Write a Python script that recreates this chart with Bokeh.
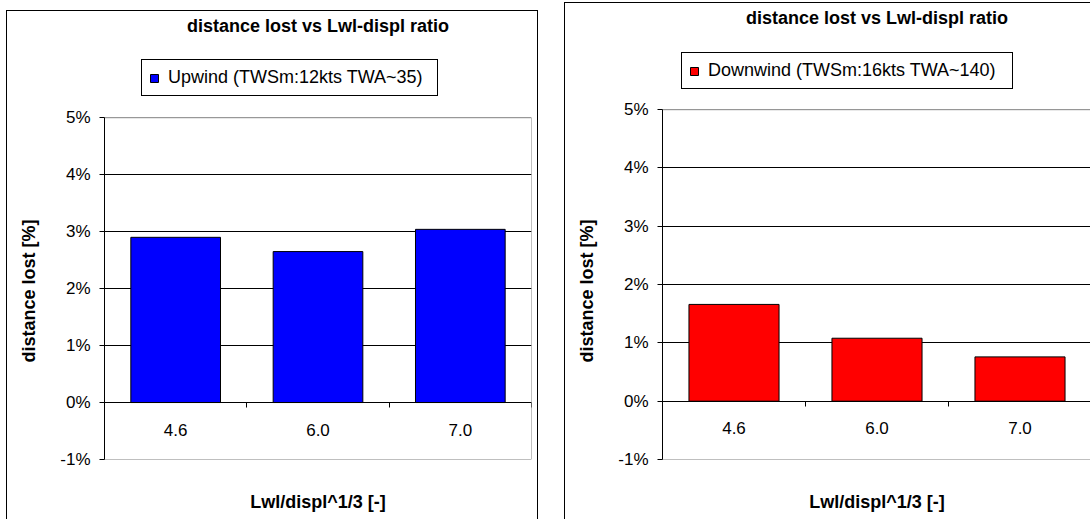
from bokeh.plotting import figure
from bokeh.layouts import row
from bokeh.models import (FixedTicker, LinearAxis, NumeralTickFormatter, Grid,
                          Legend, LegendItem, Range1d, BoxAnnotation, Title)
from bokeh.embed import file_html
from bokeh.resources import INLINE

# data
ratios = ["4.6", "6.0", "7.0"]
upwind = [0.029, 0.0265, 0.0304]
downwind = [0.0166, 0.0108, 0.0076]
pct_ticks = [-0.01, 0.0, 0.01, 0.02, 0.03, 0.04, 0.05]
grid_ticks = [0.01, 0.02, 0.03, 0.04]
y_min, y_max = -0.01, 0.05

title_text = "distance lost vs Lwl-displ ratio"
y_label = "distance lost [%]"
x_label = "Lwl/displ^1/3 [-]"
up_label = "Upwind (TWSm:12kts TWA~35)"
down_label = "Downwind (TWSm:16kts TWA~140)"

FONT = "Liberation Sans"
TOP, BOTTOM = 27, 61   # canvas borders
HEADROOM = 79          # px of frame kept above the 5% line for the legend


def make_chart(values, color, label, width, height, right, legend_xy, label_w):
    n = len(ratios)
    centers = [i + 0.5 for i in range(n)]
    frame_h = height - 1 - TOP - BOTTOM
    per_px = (y_max - y_min) / (frame_h - HEADROOM)
    p = figure(width=width, height=height,
               x_range=Range1d(0, n),
               y_range=Range1d(y_min, y_max + HEADROOM * per_px),
               x_axis_location=None, y_axis_location=None,
               output_backend="svg", toolbar_location=None)
    p.min_border_left = 97
    p.min_border_right = right
    p.min_border_top = TOP
    p.min_border_bottom = BOTTOM
    p.outline_line_color = None
    p.background_fill_color = "white"
    p.border_fill_color = "white"
    for g in p.grid:
        g.visible = False

    # plot area border
    p.add_layout(BoxAnnotation(left=0, right=n, bottom=y_min, top=y_max,
                               fill_alpha=0, line_color="#808080", line_width=1,
                               line_alpha=1, level="underlay"))
    p.add_layout(Grid(dimension=1, ticker=FixedTicker(ticks=grid_ticks),
                      grid_line_color="black"))

    bars = p.vbar(x=centers, top=values, bottom=0, width=0.63,
                  fill_color=color, line_color="black", line_width=1)

    # percentage axis
    yaxis = LinearAxis(ticker=FixedTicker(ticks=pct_ticks),
                       formatter=NumeralTickFormatter(format="0%"),
                       bounds=(y_min, y_max))
    yaxis.major_label_text_font = FONT
    yaxis.major_label_text_font_size = "17px"
    yaxis.major_label_text_color = "black"
    yaxis.major_label_standoff = 9
    yaxis.major_tick_out = 5
    yaxis.major_tick_in = 0
    yaxis.minor_tick_line_color = None
    yaxis.axis_line_color = "black"
    p.add_layout(yaxis, "left")

    # invisible axis used only as a gap before the y title
    gap = LinearAxis(ticker=FixedTicker(ticks=[0.02]), major_tick_out=19, major_tick_in=0,
                     minor_tick_out=0, minor_tick_in=0, major_label_standoff=0,
                     axis_line_color=None, major_tick_line_color=None,
                     minor_tick_line_color=None, major_label_text_font_size="0px",
                     major_label_overrides={0.02: ""})
    p.add_layout(gap, "left")

    # y axis title, centred on the -1%..5% span rather than the whole frame
    ytitle = Title(text=y_label, align="left", offset=97, standoff=0,
                   text_font=FONT, text_font_size="18px", text_font_style="bold",
                   text_color="black")
    p.add_layout(ytitle, "left")

    # category axis crossing at 0
    xaxis = LinearAxis(ticker=FixedTicker(ticks=centers, minor_ticks=list(range(n + 1))),
                       major_label_overrides={c: r for c, r in zip(centers, ratios)},
                       fixed_location=0)
    xaxis.major_tick_out = 0
    xaxis.major_tick_in = 0
    xaxis.minor_tick_out = 5
    xaxis.minor_tick_in = 0
    xaxis.minor_tick_line_color = "black"
    xaxis.axis_line_color = "black"
    xaxis.major_label_text_font = FONT
    xaxis.major_label_text_font_size = "17px"
    xaxis.major_label_text_color = "black"
    xaxis.major_label_standoff = 16
    p.add_layout(xaxis, "below")

    # axis title below the frame
    xlab = LinearAxis(ticker=FixedTicker(ticks=[]), axis_label=x_label)
    xlab.axis_line_color = None
    xlab.major_tick_line_color = None
    xlab.minor_tick_line_color = None
    xlab.major_label_text_font_size = "0px"
    xlab.axis_label_text_font = FONT
    xlab.axis_label_text_font_size = "18px"
    xlab.axis_label_text_font_style = "bold"
    xlab.axis_label_text_color = "black"
    xlab.axis_label_standoff = 32
    p.add_layout(xlab, "below")

    legend = Legend(items=[LegendItem(label=label, renderers=[bars])],
                    location=legend_xy)
    legend.border_line_color = "black"
    legend.border_line_alpha = 1
    legend.border_line_width = 1
    legend.background_fill_color = "white"
    legend.background_fill_alpha = 1
    legend.label_text_font = FONT
    legend.label_text_font_size = "18px"
    legend.label_text_color = "black"
    legend.label_width = label_w
    legend.glyph_width = 10
    legend.glyph_height = 10
    legend.label_standoff = 9
    legend.padding = 7
    legend.margin = 0
    p.add_layout(legend, "center")

    p.title.text = title_text
    p.title.align = "center"
    p.title.text_font = FONT
    p.title.text_font_size = "18px"
    p.title.text_font_style = "bold"
    p.title.text_color = "black"
    p.title.standoff = 5
    return p


p1 = make_chart(upwind, "#0000FF", up_label, 532, 509, 8, (37, 363), 262)
p1.styles = {"border-left": "1px solid black", "border-top": "1px solid black",
             "border-right": "1px solid black"}
p1.margin = (10, 0, 0, 6)

p2 = make_chart(downwind, "#FF0000", down_label, 526, 517, 0, (19, 370), 297)
p2.styles = {"border-left": "1px solid black", "border-top": "1px solid black"}
p2.margin = (2, 0, 0, 26)

layout = row(p1, p2)

open("out.html", "w").write(file_html(layout, INLINE))
